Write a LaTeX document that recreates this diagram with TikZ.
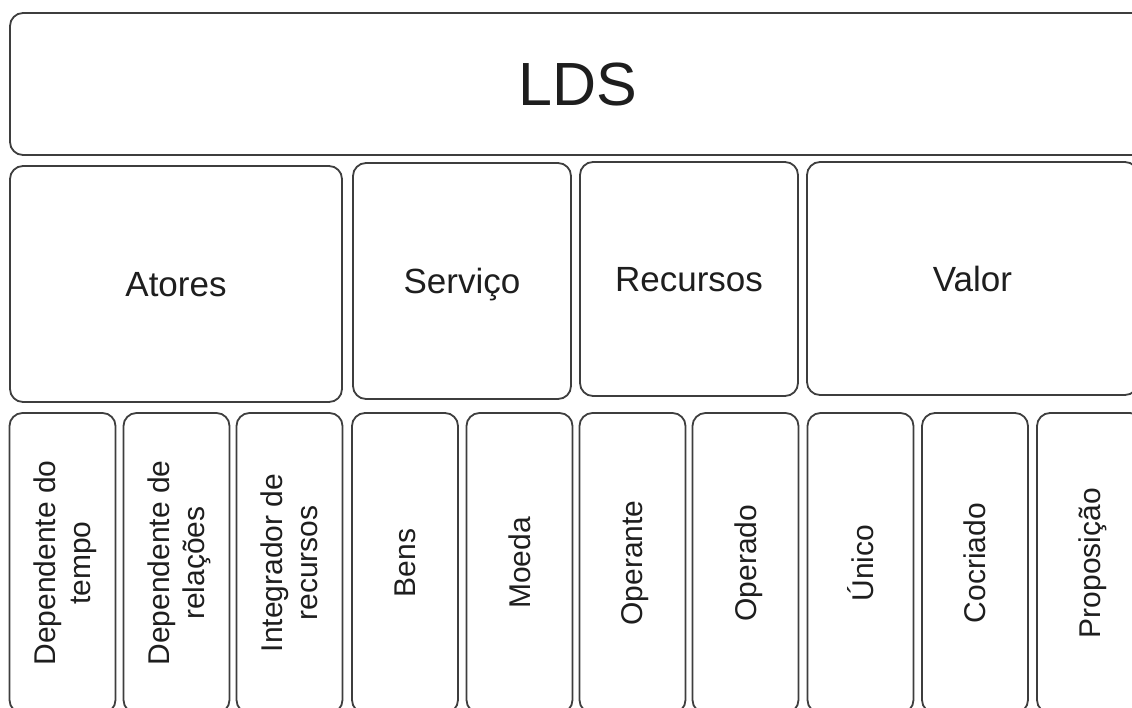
\documentclass[tikz,border=0pt]{standalone}
\usepackage{fontspec}
\setmainfont{Liberation Sans}
\usepackage{tikz}
\definecolor{boxline}{RGB}{62,62,62}
\definecolor{boxtext}{RGB}{30,30,30}

\begin{document}
\begin{tikzpicture}[x=1pt,y=-1pt,
 box/.style={draw=boxline,line width=1.8pt,rounded corners=13pt,text=boxtext,align=center,inner sep=0pt},
 topbox/.style={box,text height=25pt,text depth=0pt,font={\fontsize{35}{40}\selectfont}},
 leaf/.style={box,rotate=90,text depth=0pt,minimum width=300pt,minimum height=106pt,font={\fontsize{30}{35}\selectfont}}]
\useasboundingbox (0,0) rectangle (1132,707);
\clip (0,0) rectangle (1132,707);
% root
\node[box,minimum width=1135pt,minimum height=142pt,font={\fontsize{61}{70}\selectfont}] (lds) at (577.5,84) {LDS};
% categories
\node[topbox,minimum width=332pt,minimum height=236pt] (atores) at (176,284) {Atores};
\node[topbox,minimum width=218pt,minimum height=236pt] (servico) at (462,281) {Serviço};
\node[topbox,minimum width=218pt,minimum height=234pt] (recursos) at (689,279) {Recursos};
\node[topbox,minimum width=331pt,minimum height=233pt] (valor) at (972.5,278.5) {Valor};
% leaves
\node[leaf] (tempo) at (62.5,563) {Dependente do\\tempo};
\node[leaf] (relacoes) at (176.5,563) {Dependente de\\relações};
\node[leaf] (integrador) at (289.5,563) {Integrador de\\recursos};
\node[leaf] (bens) at (405,563) {Bens};
\node[leaf] (moeda) at (519.5,563) {Moeda};
\node[leaf] (operante) at (632.5,563) {Operante};
\node[leaf] (operado) at (745.5,563) {Operado};
\node[leaf] (unico) at (860.5,563) {Único};
\node[leaf] (cocriado) at (975,563) {Cocriado};
\node[leaf] (proposicao) at (1090,563) {Proposição};
\end{tikzpicture}
\end{document}
